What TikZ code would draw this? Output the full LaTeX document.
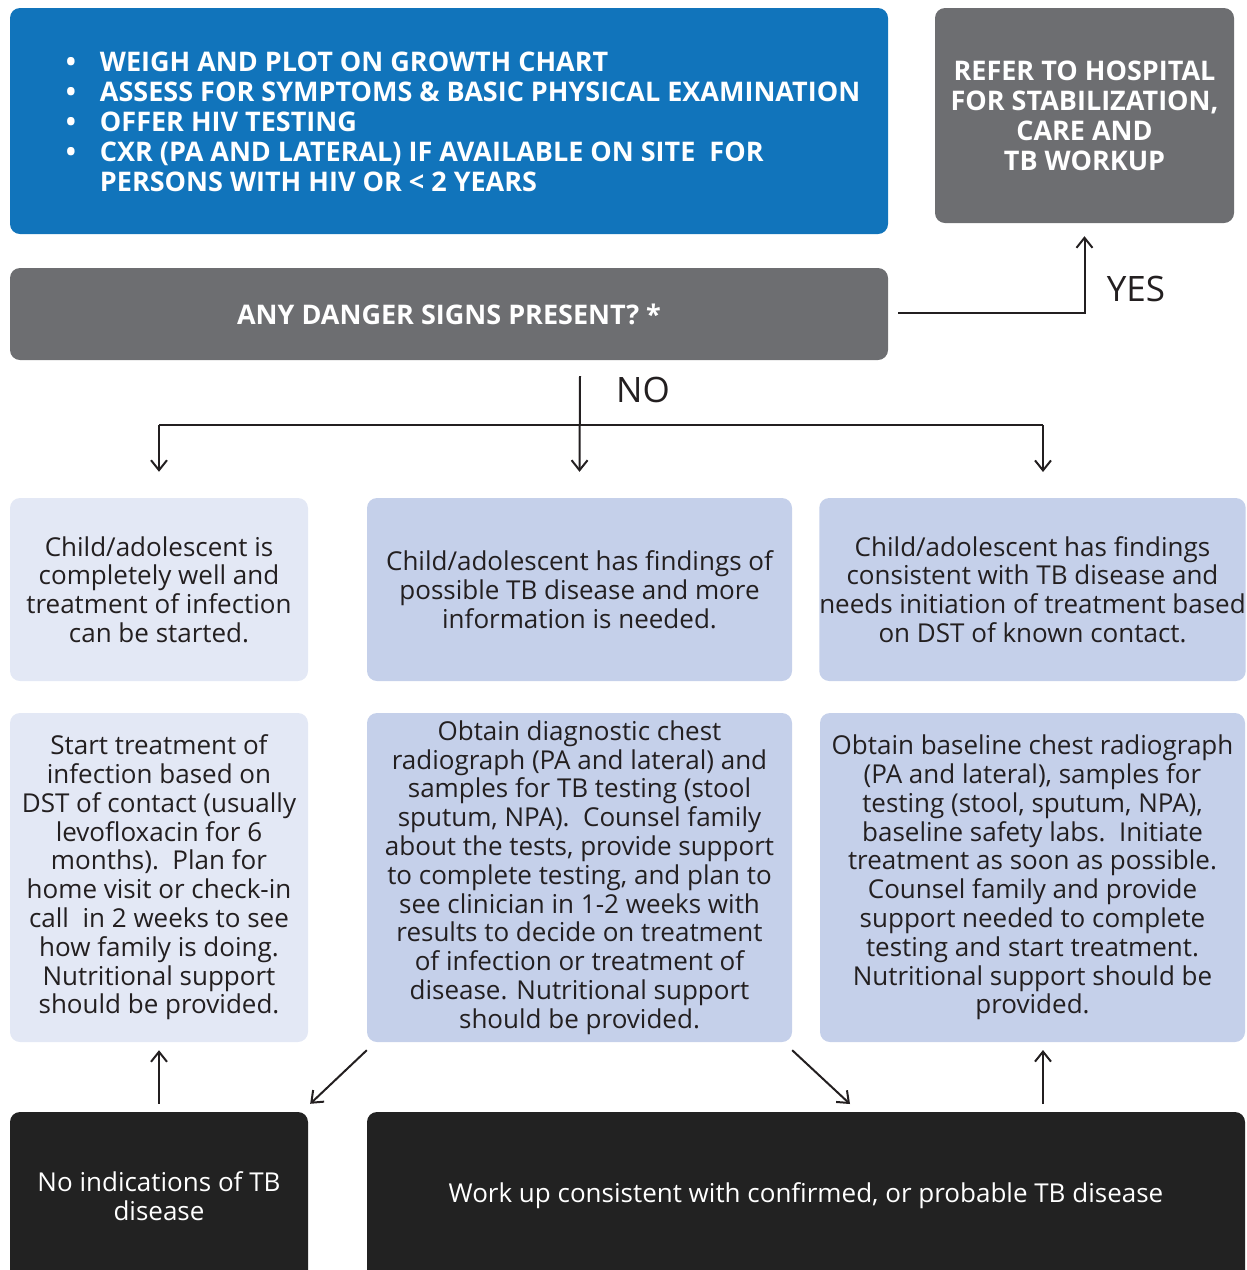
\documentclass[tikz,border=0pt]{standalone}
\usepackage{fontspec}
\setmainfont{Open Sans}
\usetikzlibrary{arrows.meta}

\definecolor{tbblue}{HTML}{1174BB}
\definecolor{tbgrey}{HTML}{6D6E71}
\definecolor{tbpale}{HTML}{E3E8F5}
\definecolor{tblight}{HTML}{C5D0EA}
\definecolor{tbdark}{HTML}{222222}
\definecolor{tbink}{HTML}{231F20}

\begin{document}
\begin{tikzpicture}[x=1pt,y=-1pt,
  box/.style={rounded corners=10pt, inner sep=0pt, align=center},
  headbox/.style={box, text=white, font=\bfseries\fontsize{27}{30}\selectfont},
  bodybox/.style={box, text=tbink, font=\fontsize{26}{28.8}\selectfont},
  footbox/.style={box, fill=tbdark, text=white, font=\fontsize{26}{28.8}\selectfont},
  flow/.style={draw=tbink, line width=2pt, -{Straight Barb[length=10pt,width=16pt,line width=2pt]}},
  answer/.style={text=tbink, font=\fontsize{35}{40}\selectfont}]

\clip (0,0) rectangle (1247,1270);

% top row
\node[headbox, fill=tbblue, minimum width=878, minimum height=226] (assess) at (449,121)
  {\begin{tabular}{@{\hspace{28pt}}c@{\hspace{24pt}}l@{}}
   \rule{0pt}{29pt}\textbullet & WEIGH AND PLOT ON GROWTH CHART\\
   \textbullet & ASSESS FOR SYMPTOMS \& BASIC PHYSICAL EXAMINATION\\
   \textbullet & OFFER HIV TESTING\\
   \textbullet & CXR (PA AND LATERAL) IF AVAILABLE ON SITE\ \ FOR\\
               & PERSONS WITH HIV OR < 2 YEARS
   \end{tabular}};
\node[headbox, fill=tbgrey, minimum width=299, minimum height=215] (refer) at (1084.5,115.5)
  {REFER TO HOSPITAL\\FOR STABILIZATION,\\CARE AND\\TB WORKUP};
\node[headbox, fill=tbgrey, minimum width=878, minimum height=92] (danger) at (449,314)
  {ANY DANGER SIGNS PRESENT? *};

% findings
\node[bodybox, fill=tbpale, minimum width=298, minimum height=183] (well) at (159,589.5)
  {Child/adolescent is\\completely well and\\treatment of infection\\can be started.};
\node[bodybox, fill=tblight, minimum width=425, minimum height=183] (possible) at (579.5,589.5)
  {Child/adolescent has findings of\\possible TB disease and more\\information is needed.};
\node[bodybox, fill=tblight, minimum width=425, minimum height=183] (consistent) at (1032.5,589.5)
  {Child/adolescent has findings\\consistent with TB disease and\\needs initiation of treatment based\\on DST of known contact.};

% actions
\node[bodybox, fill=tbpale, minimum width=298, minimum height=329] (infect) at (159,877.5)
  {Start treatment of\\infection based on\\DST of contact (usually\\levofloxacin for 6\\months).\ \ Plan for\\home visit or check-in\\call\ \ in 2 weeks to see\\how family is doing.\\Nutritional support\\should be provided.};
\node[bodybox, fill=tblight, minimum width=425, minimum height=329] (workup) at (579.5,877.5)
  {Obtain diagnostic chest\\radiograph (PA and lateral) and\\samples for TB testing (stool\\sputum, NPA).\ \ Counsel family\\about the tests, provide support\\to complete testing, and plan to\\see clinician in 1-2 weeks with\\results to decide on treatment\\of infection or treatment of\\disease. Nutritional support\\should be provided.};
\node[bodybox, fill=tblight, minimum width=425, minimum height=329] (treat) at (1032.5,877.5)
  {Obtain baseline chest radiograph\\(PA and lateral), samples for\\testing (stool, sputum, NPA),\\baseline safety labs.\ \ Initiate\\treatment as soon as possible.\\Counsel family and provide\\support needed to complete\\testing and start treatment.\\Nutritional support should be\\provided.};

% results
\node[footbox, minimum width=298, minimum height=168] (negative) at (159,1196)
  {No indications of TB\\disease};
\node[footbox, minimum width=878, minimum height=168] (positive) at (806,1196)
  {Work up consistent with confirmed, or probable TB disease};

% answers
\node[answer] (yes) at (1136,289) {YES};
\node[answer] (no) at (643,390) {NO};

\coordinate (yesstart) at (898,313);
\coordinate (nostart) at (580,376);
\coordinate (forkleft) at (159,425);
\coordinate (forkright) at (1043,425);
\coordinate (rightin) at (1043,472);
\coordinate (posin) at (850,1104);
\coordinate (posout) at (1043,1104);
\coordinate (treatin) at (1043,1050);

\draw[flow] (yesstart) -| ([yshift=-13pt]refer.south);
\draw[flow] (nostart) -- ([yshift=26pt]possible.north);
\draw[draw=tbink, line width=2pt] (forkleft) -- (forkright);
\draw[flow] (forkleft) -- ([yshift=26pt]well.north);
\draw[flow] (forkright) -- (rightin);
\draw[flow] ([yshift=8pt]negative.north) -- ([yshift=-8pt]infect.south);
\draw[flow] ([yshift=-8pt]workup.south west) -- ([shift={(2pt,8pt)}]negative.north east);
\draw[flow] ([yshift=-8pt]workup.south east) -- (posin);
\draw[flow] (posout) -- (treatin);
\end{tikzpicture}
\end{document}
